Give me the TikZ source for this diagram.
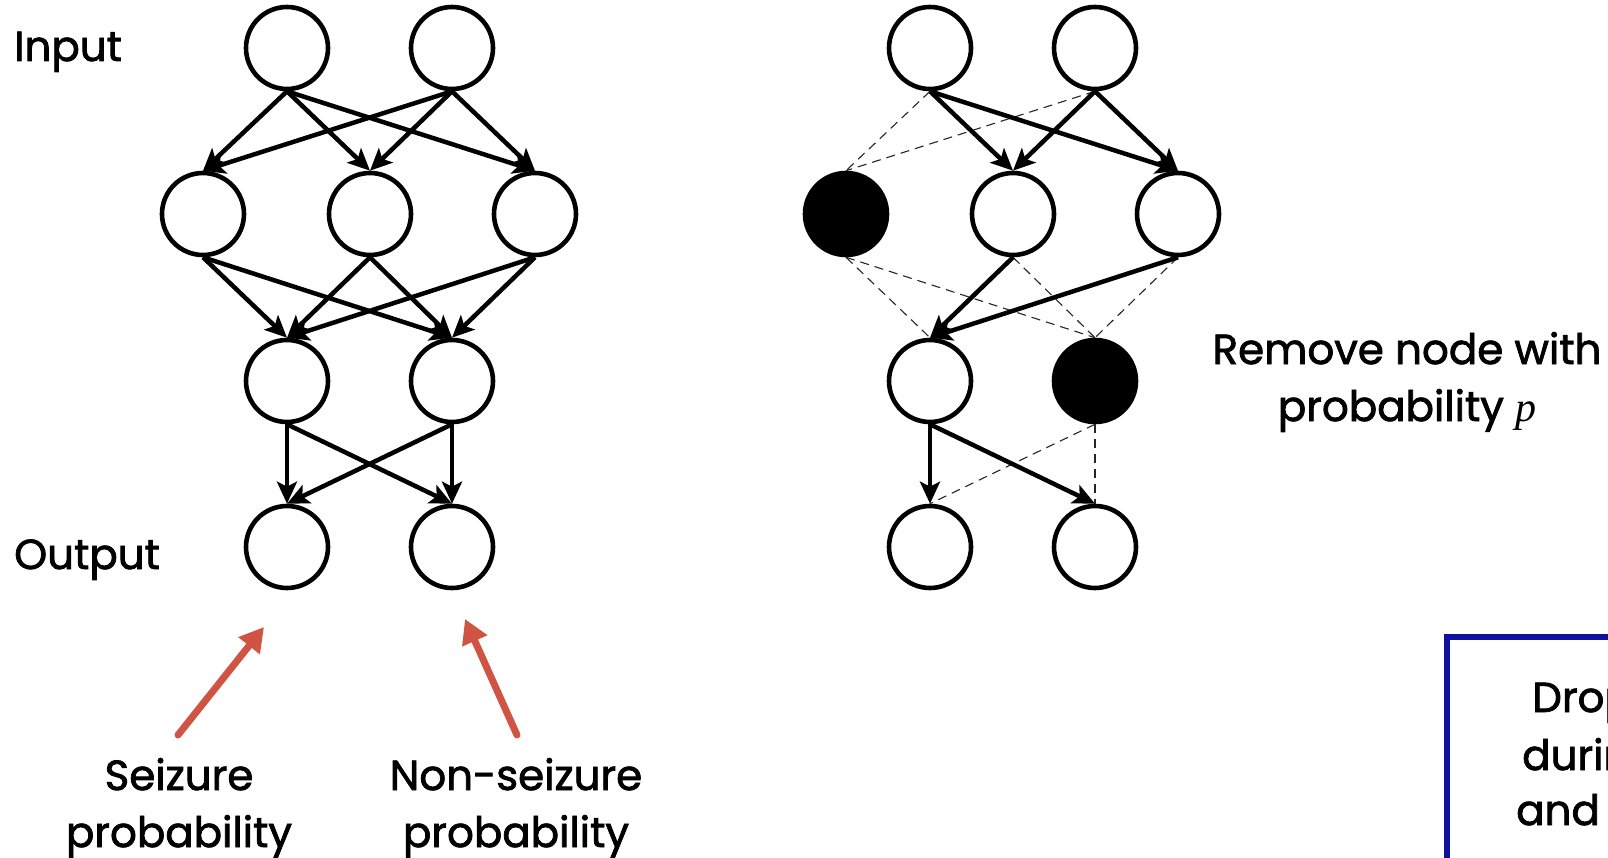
\documentclass[tikz,border=0pt]{standalone}
\usepackage{fontspec}
\setmainfont{Poppins}[FakeBold=1.8]
\newfontfamily\varserif{Liberation Serif}
\usetikzlibrary{arrows.meta}
\definecolor{arrowred}{HTML}{D05443}
\definecolor{boxblue}{HTML}{1111A0}
\tikzset{
  neuron/.style={circle, draw=black, line width=4.6pt, minimum size=82pt, inner sep=0pt, fill=white},
  dropped/.style={neuron, fill=black},
  link/.style={line width=4.5pt, -{Stealth[length=22pt,width=20pt,inset=5pt]}},
  cut/.style={line width=1.1pt, dash pattern=on 9pt off 6pt, black!85},
  lbl/.style={font=\fontsize{42}{57}\selectfont, inner sep=0pt},
  pointer/.style={arrowred, line width=7pt, line cap=round, -{Triangle[length=24pt,width=26pt]}},
}
\begin{document}
\begin{tikzpicture}[x=1pt, y=-1pt]
\clip (0,0) rectangle (1608,858);
\fill[white] (0,0) rectangle (1608,858);

% ---- full network ----
\node[neuron] (Li1) at (287,48) {};
\node[neuron] (Li2) at (452,48) {};
\node[neuron] (Lh1) at (203,214) {};
\node[neuron] (Lh2) at (370,214) {};
\node[neuron] (Lh3) at (535,214) {};
\node[neuron] (Lg1) at (287,381) {};
\node[neuron] (Lg2) at (452,381) {};
\node[neuron] (Lo1) at (287,547) {};
\node[neuron] (Lo2) at (452,547) {};

\foreach \s in {Li1,Li2}
  \foreach \t in {Lh1,Lh2,Lh3}
    \draw[link] (\s.south) -- (\t.north);
\foreach \s in {Lh1,Lh2,Lh3}
  \foreach \t in {Lg1,Lg2}
    \draw[link] (\s.south) -- (\t.north);
\foreach \s in {Lg1,Lg2}
  \foreach \t in {Lo1,Lo2}
    \draw[link] (\s.south) -- (\t.north);

% ---- thinned network ----
\node[neuron]  (Ri1) at (930,48) {};
\node[neuron]  (Ri2) at (1095,48) {};
\node[dropped] (Rh1) at (846,214) {};
\node[neuron]  (Rh2) at (1013,214) {};
\node[neuron]  (Rh3) at (1178,214) {};
\node[neuron]  (Rg1) at (930,381) {};
\node[dropped] (Rg2) at (1095,381) {};
\node[neuron]  (Ro1) at (930,547) {};
\node[neuron]  (Ro2) at (1095,547) {};

\draw[cut] (Ri1.south) -- (Rh1.north);
\draw[cut] (Ri2.south) -- (Rh1.north);
\draw[cut] (Rh1.south) -- (Rg1.north);
\draw[cut] (Rh1.south) -- (Rg2.north);
\draw[cut] (Rh2.south) -- (Rg2.north);
\draw[cut] (Rh3.south) -- (Rg2.north);
\draw[cut] (Rg2.south) -- (Ro1.north);
\draw[cut] (Rg2.south) -- (Ro2.north);

\draw[link] (Ri1.south) -- (Rh2.north);
\draw[link] (Ri1.south) -- (Rh3.north);
\draw[link] (Ri2.south) -- (Rh2.north);
\draw[link] (Ri2.south) -- (Rh3.north);
\draw[link] (Rh2.south) -- (Rg1.north);
\draw[link] (Rh3.south) -- (Rg1.north);
\draw[link] (Rg1.south) -- (Ro1.north);
\draw[link] (Rg1.south) -- (Ro2.north);

% ---- labels (two-line nodes sit on the baseline of their last line) ----
\node[lbl, anchor=base west] (inlbl) at (14,61) {Input};
\node[lbl, anchor=base west] (outlbl) at (14,569) {Output};
\node[lbl, align=center, anchor=base] (seiz) at (179,847) {Seizure\\probability};
\node[lbl, align=center, anchor=base] (nonseiz) at (516,847) {Non-seizure\\probability};
\node[lbl, align=center, anchor=base] (remove) at (1407,421) {Remove node with\\probability {\varserif\itshape p}};

\coordinate (sTail) at (178,735);
\coordinate (sHead) at (264,627);
\coordinate (nTail) at (517,735);
\coordinate (nHead) at (465,619);
\draw[pointer] (sTail) -- (sHead);
\draw[pointer] (nTail) -- (nHead);

% ---- note box ----
\draw[boxblue, line width=6pt] (1447,637) rectangle (1720,900);
\node[lbl, anchor=base west] (note1) at (1532,712) {Dropout};
\node[lbl, anchor=base west] (note2) at (1522,770) {during};
\node[lbl, anchor=base west] (note3) at (1516,825) {and};
\end{tikzpicture}
\end{document}
